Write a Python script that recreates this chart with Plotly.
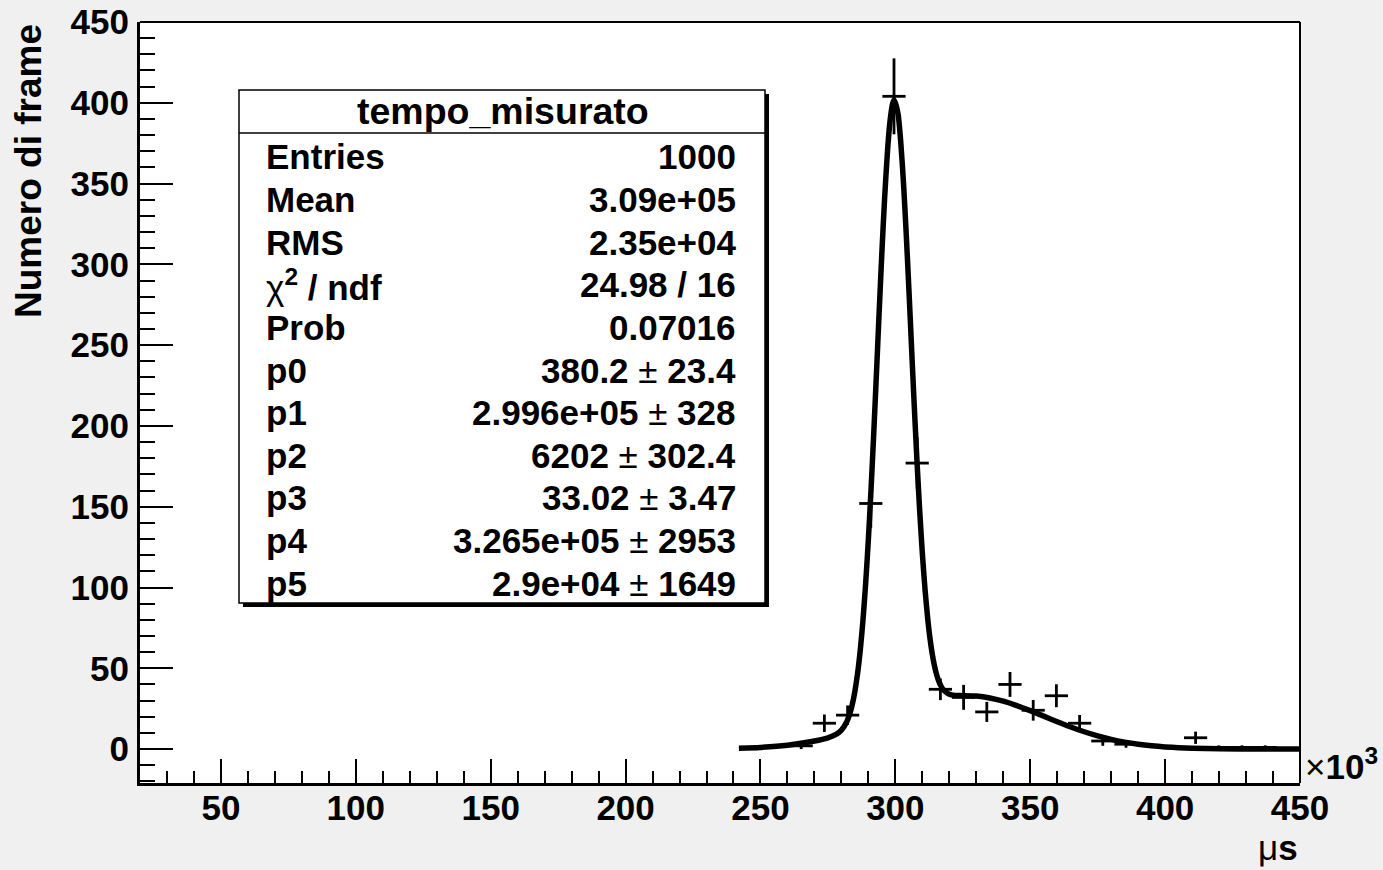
import plotly.graph_objects as go

# ---------------- data (x in units of 10^3 microseconds) ----------------
bin_centers = [265.1, 273.7, 282.3, 290.9, 299.5, 308.1, 316.7, 325.3, 333.9, 342.5,
               351.1, 359.7, 368.3, 376.9, 385.5, 411.3, 419.9, 428.5, 437.1]
bin_counts = [2, 16, 21, 152, 404, 177, 37, 32, 23, 40,
              24, 33, 16, 5, 3, 7, 1, 1, 1]
bin_errors = [2.0, 5.4, 6.0, 15.0, 23.5, 16.0, 6.7, 7.7, 6.2, 7.7,
              6.4, 7.1, 5.1, 3.0, 2.2, 3.8, 1.3, 1.3, 1.3]
bin_half_width = 4.3

fit_x = [242, 250, 260, 270, 275, 278, 280, 282, 283, 284, 285, 286, 287, 288, 289,
         290, 291, 292, 293, 294, 295, 296, 297, 298, 299, 299.6, 301, 302, 303, 304,
         305, 306, 307, 308, 309, 310, 311, 312, 313, 314, 315, 316, 317, 318, 320,
         322, 325, 330, 335, 340, 345, 350, 355, 360, 365, 370, 375, 380, 385, 390,
         395, 400, 405, 410, 420, 435, 450]
fit_y = [0.47, 1.02, 2.38, 4.95, 6.97, 9.04, 11.71, 16.95, 21.3, 27.37, 35.67, 46.79,
         61.36, 79.81, 102.55, 129.76, 161.0, 195.77, 232.7, 270.52, 307.1, 340.19,
         367.9, 388.17, 399.5, 401.68, 393.03, 375.8, 350.98, 320.0, 285.28, 249.0,
         212.94, 178.9, 148.12, 121.3, 98.82, 80.7, 66.5, 55.76, 47.9, 42.4, 38.72,
         36.3, 33.9, 33.2, 33.07, 32.78, 31.63, 29.63, 26.94, 23.78, 20.37, 16.94,
         13.68, 10.72, 8.16, 6.02, 4.32, 3.0, 2.03, 1.33, 0.85, 0.52, 0.18, 0.03, 0.0]

stats_title = "tempo_misurato"
stat_labels = ["Entries", "Mean", "RMS", "χ<sup>2</sup> / ndf", "Prob",
               "p0", "p1", "p2", "p3", "p4", "p5"]
stat_values = ["1000", "3.09e+05", "2.35e+04", "24.98 / 16", "0.07016",
               "380.2 ± 23.4", "2.996e+05 ± 328", "6202 ± 302.4",
               "33.02 ± 3.47", "3.265e+05 ± 2953", "2.9e+04 ± 1649"]

x_range = [20, 450]
y_range = [-21, 450]

# ---------------- layout geometry (pixels) ----------------
W, H = 1383, 870
L, R, T, B = 140, 83, 22, 87
PW, PH = W - L - R, H - T - B


def px(x):
    return (x - L) / PW


def py(y):
    return 1 - (y - T) / PH


FONT = "Liberation Sans, Arial, Helvetica, sans-serif"

fig = go.Figure()

fig.add_trace(go.Scatter(
    x=fit_x, y=fit_y, mode="lines",
    line=dict(color="black", width=5.5, shape="spline", smoothing=0.6),
    hoverinfo="skip", showlegend=False,
))

fig.add_trace(go.Scatter(
    x=bin_centers, y=bin_counts, mode="markers",
    marker=dict(size=1, color="black", opacity=0),
    error_x=dict(type="constant", value=bin_half_width, width=0,
                 thickness=2.8, color="black"),
    error_y=dict(type="data", array=bin_errors, width=0,
                 thickness=2.8, color="black"),
    showlegend=False,
))

tickfont = dict(family=FONT, size=35, color="black", weight="bold")

fig.update_layout(
    width=W, height=H,
    margin=dict(l=L, r=R, t=T, b=B, pad=0, autoexpand=False),
    paper_bgcolor="#f0f0f0",
    plot_bgcolor="white",
    showlegend=False,
    xaxis=dict(
        range=x_range, tick0=0, dtick=50, ticks="inside", ticklen=24,
        tickwidth=2, tickcolor="black", showline=True, linewidth=3,
        linecolor="black", showgrid=False, zeroline=False, tickfont=tickfont,
        ticklabelstandoff=-8, automargin=False,
        minor=dict(tick0=0, dtick=10, ticks="inside", ticklen=12,
                   tickwidth=2, tickcolor="black", showgrid=False),
    ),
    yaxis=dict(
        range=y_range, tick0=0, dtick=50, ticks="inside", ticklen=33,
        tickwidth=2, tickcolor="black", showline=True, linewidth=3,
        linecolor="black", showgrid=False, zeroline=False, tickfont=tickfont,
        ticklabelstandoff=1, automargin=False,
        minor=dict(tick0=0, dtick=10, ticks="inside", ticklen=15,
                   tickwidth=2, tickcolor="black", showgrid=False),
    ),
)

shapes = []
# frame top and right
shapes.append(dict(type="line", xref="paper", yref="paper", x0=0, x1=1, y0=1, y1=1,
                   line=dict(color="black", width=2)))
shapes.append(dict(type="line", xref="paper", yref="paper", x0=1, x1=1, y0=0, y1=1,
                   line=dict(color="black", width=2)))
# stats box shadow + box
bx0, bx1, by0, by1 = 239, 765, 90, 603
sh = 4
shapes.append(dict(type="rect", xref="paper", yref="paper",
                   x0=px(bx0 + sh), x1=px(bx1 + sh), y0=py(by1 + sh), y1=py(by0 + sh),
                   fillcolor="black", line=dict(width=0)))
shapes.append(dict(type="rect", xref="paper", yref="paper",
                   x0=px(bx0), x1=px(bx1), y0=py(by1), y1=py(by0),
                   fillcolor="white", line=dict(color="black", width=1.5)))
shapes.append(dict(type="line", xref="paper", yref="paper",
                   x0=px(bx0), x1=px(bx1), y0=py(133), y1=py(133),
                   line=dict(color="black", width=1.5)))
fig.update_layout(shapes=shapes)

ann = []
ann.append(dict(text=stats_title, xref="paper", yref="paper", x=px(503), y=py(111),
                xanchor="center", yanchor="middle", showarrow=False,
                font=dict(family=FONT, size=37.5, color="black", weight="bold")))
row_y0, row_step = 157, 42.6
for i, (lab, val) in enumerate(zip(stat_labels, stat_values)):
    yy = row_y0 + i * row_step
    lab_txt = lab.replace("χ", '<span style="font-weight:normal">χ</span>')
    val_txt = val.replace("±", '<span style="font-weight:normal">±</span>')
    ann.append(dict(text=lab_txt, xref="paper", yref="paper", x=px(264), y=py(yy),
                    xanchor="left", yanchor="middle", showarrow=False,
                    font=dict(family=FONT, size=35, color="black", weight="bold")))
    ann.append(dict(text=val_txt, xref="paper", yref="paper", x=px(738), y=py(yy),
                    xanchor="right", yanchor="middle", showarrow=False,
                    font=dict(family=FONT, size=35, color="black", weight="bold")))

# axis titles
ann.append(dict(text="Numero di frame", xref="paper", yref="paper", x=px(28), y=1.0,
                xanchor="center", yanchor="top", textangle=-90, showarrow=False,
                font=dict(family=FONT, size=37, color="black", weight="bold")))
ann.append(dict(text='<span style="font-weight:normal">μ</span>s', xref="paper",
                yref="paper", x=1.0, y=py(869), xanchor="right", yanchor="bottom",
                showarrow=False,
                font=dict(family=FONT, size=35, color="black", weight="bold")))
ann.append(dict(text='<span style="font-weight:normal">×</span>10<sup>3</sup>',
                xref="paper", yref="paper", x=px(1303), y=py(764), xanchor="left",
                yanchor="middle", showarrow=False,
                font=dict(family=FONT, size=35, color="black", weight="bold")))
fig.update_layout(annotations=ann)

fig.write_html("out.html")
